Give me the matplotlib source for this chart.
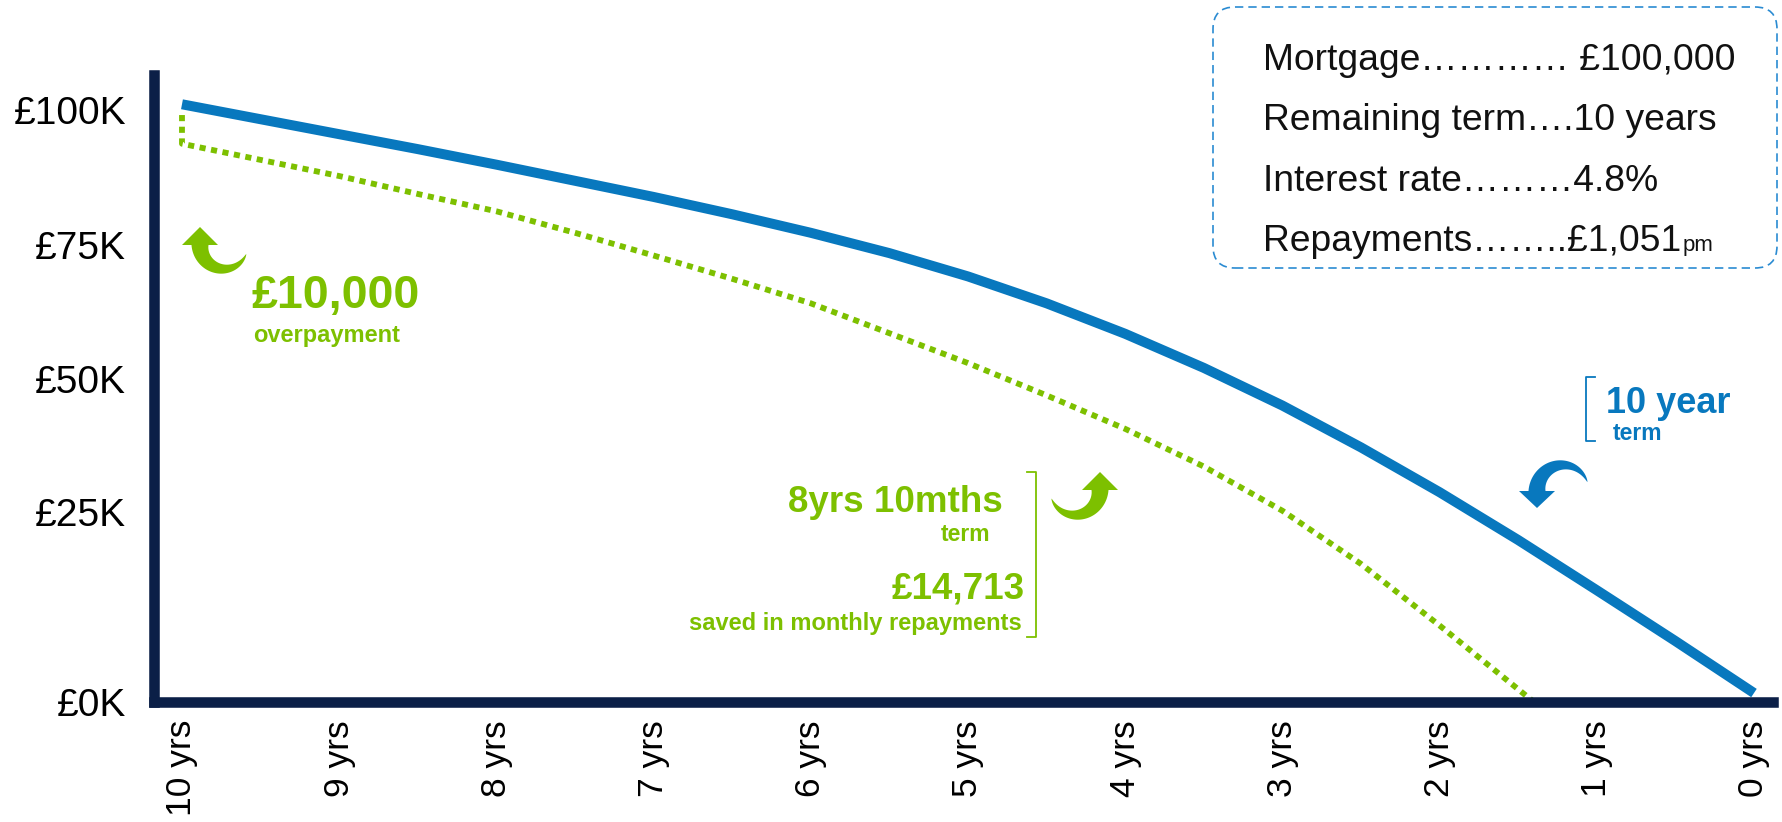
import numpy as np
import matplotlib
matplotlib.use('Agg')
import matplotlib.pyplot as plt
from matplotlib.patches import FancyBboxPatch, Polygon
from matplotlib.lines import Line2D

plt.rcParams['font.family'] = ['Liberation Sans', 'DejaVu Sans']

# ---------------- data (balance in £K against years remaining) ----------------
years = [10, 9.5, 9, 8.5, 8, 7.5, 7, 6.5, 6, 5.5, 5, 4.5, 4, 3.5, 3, 2.5, 2, 1.5, 1, 0.5, 0]
standard_balance = [100, 97.5, 95.0, 92.5, 89.9, 87.2, 84.5, 81.6, 78.5, 75.1, 71.2,
                    66.7, 61.6, 55.9, 49.6, 42.6, 35.1, 27.1, 18.7, 10.2, 1.5]

overpay_years = [10, 10, 9.5, 9, 8.5, 8, 7.5, 7, 6.5, 6, 5.5, 5, 4.5, 4, 3.5, 3, 2.5, 2, 1.40]
overpay_balance = [98.2, 93.4, 90.7, 88.0, 85.0, 82.1, 78.5, 74.7, 70.8, 66.7, 61.7, 56.7,
                   51.3, 45.7, 39.4, 32.0, 23.1, 12.8, 0]

year_ticks = [10, 9, 8, 7, 6, 5, 4, 3, 2, 1, 0]
year_labels = [f"{y} yrs" for y in year_ticks]
balance_tick_pos = [0, 31.8, 54.1, 76.5, 99.0]   # where the reference prints its labels
balance_tick_labels = ['£0K', '£25K', '£50K', '£75K', '£100K']

box_lines = ["Mortgage………… £100,000",
             "Remaining term….10 years",
             "Interest rate………4.8%",
             "Repayments……..£1,051"]
box_suffix = "pm"

overpay_amount = "£10,000"
overpay_caption = "overpayment"
new_term = "8yrs 10mths"
saving = "£14,713"
saving_caption = "saved in monthly repayments"
orig_term = "10 year"
term_caption = "term"

# ---------------- style ----------------
BLUE = '#0878be'
GREEN = '#7dc000'
NAVY = '#0b1f47'
BOX = '#2a8bd2'

W, H = 1783, 822
fig = plt.figure(figsize=(W / 100, H / 100), dpi=100)
T = fig.dpi_scale_trans


def P(x, y):
    return (x / 100.0, (H - y) / 100.0)


ax = fig.add_axes([154 / W, 1 - 702 / H, (1773 - 154) / W, (702 - 75) / H])
ax.plot(years, standard_balance, color=BLUE, lw=7.2, solid_capstyle='butt',
        solid_joinstyle='round', zorder=2)
ax.plot(overpay_years, overpay_balance, color=GREEN, lw=4.2,
        linestyle=(0, (1.05, 0.95)), dash_capstyle='butt', zorder=2)

ax.set_xlim(10.178, -0.121)
ax.set_ylim(0, 104.9)
ax.set_xticks(year_ticks)
ax.set_xticklabels(year_labels, rotation=90, fontsize=25.5, color='black')
ax.set_yticks(balance_tick_pos)
ax.set_yticklabels(balance_tick_labels, fontsize=28, color='black')
ax.tick_params(axis='both', length=0)
ax.tick_params(axis='y', pad=20)
ax.tick_params(axis='x', pad=13)
for s in ['top', 'right']:
    ax.spines[s].set_visible(False)
for s in ['left', 'bottom']:
    ax.spines[s].set_color(NAVY)
    ax.spines[s].set_linewidth(7.6)
    ax.spines[s].set_capstyle('projecting')
    ax.spines[s].set_zorder(3)

# ---------------- info box ----------------
box = FancyBboxPatch(P(1213, 268), (1777 - 1213) / 100, (268 - 7) / 100,
                     boxstyle="round,pad=0,rounding_size=0.22", transform=T,
                     facecolor='none', edgecolor=BOX, lw=1.2, linestyle=(0, (5, 3)))
fig.add_artist(box)
baselines = [70, 130, 191, 251]
last = None
for line, yb in zip(box_lines, baselines):
    last = fig.text(*P(1263, yb), line, transform=T, fontsize=26.8, color='#111111',
                    ha='left', va='baseline')
fig.canvas.draw()
bb = last.get_window_extent()
fig.text(bb.x1 / fig.dpi + 0.01, (H - 251) / 100, box_suffix, transform=T, fontsize=16,
         color='#111111', ha='left', va='baseline')

# ---------------- annotations ----------------
fig.text(*P(252, 308), overpay_amount, transform=T, fontsize=33.5, fontweight='bold',
         color=GREEN, ha='left', va='baseline')
fig.text(*P(253, 342), overpay_caption, transform=T, fontsize=17, fontweight='bold',
         color=GREEN, ha='left', va='baseline')

fig.text(*P(1003, 512), new_term, transform=T, fontsize=26.5, fontweight='bold',
         color=GREEN, ha='right', va='baseline')
fig.text(*P(990, 541), term_caption, transform=T, fontsize=16.5, fontweight='bold',
         color=GREEN, ha='right', va='baseline')
fig.text(*P(1025, 598), saving, transform=T, fontsize=26.5, fontweight='bold',
         color=GREEN, ha='right', va='baseline')
fig.text(*P(1022, 630), saving_caption, transform=T, fontsize=17, fontweight='bold',
         color=GREEN, ha='right', va='baseline')

fig.text(*P(1606, 413), orig_term, transform=T, fontsize=26, fontweight='bold',
         color=BLUE, ha='left', va='baseline')
fig.text(*P(1613, 440), term_caption, transform=T, fontsize=16.5, fontweight='bold',
         color=BLUE, ha='left', va='baseline')

# brackets
gx = [P(1027, 472), P(1036, 472), P(1036, 637), P(1027, 637)]
fig.add_artist(Line2D([p[0] for p in gx], [p[1] for p in gx], transform=T,
                      color=GREEN, lw=1.3))
bx = [P(1595, 377), P(1586, 377), P(1586, 441), P(1595, 441)]
fig.add_artist(Line2D([p[0] for p in bx], [p[1] for p in bx], transform=T,
                      color=BLUE, lw=1.3))


# curved (crescent) arrows, geometry in pixel space (y down)
def crescent_arrow(c, r, phi_tail, phi_head, w0, head_w, head_len, color, n=80):
    cx, cy = c
    ph = np.radians(np.linspace(phi_tail, phi_head, n))
    frac = np.linspace(0, 1, n)
    w = w0 * frac ** 0.75
    outer = [(cx + (r + wi / 2) * np.cos(p), cy + (r + wi / 2) * np.sin(p)) for p, wi in zip(ph, w)]
    inner = [(cx + (r - wi / 2) * np.cos(p), cy + (r - wi / 2) * np.sin(p)) for p, wi in zip(ph, w)]
    a = np.radians(phi_head)
    sgn = np.sign(phi_head - phi_tail)
    nrm = np.array([np.cos(a), np.sin(a)])
    tan = sgn * np.array([-np.sin(a), np.cos(a)])
    base = np.array([cx, cy]) + r * nrm
    h1 = base + nrm * head_w / 2
    tip = base + tan * head_len
    h2 = base - nrm * head_w / 2
    pts = outer + [tuple(h1), tuple(tip), tuple(h2)] + inner[::-1]
    pts = [P(x, y) for x, y in pts]
    fig.add_artist(Polygon(pts, closed=True, transform=T, facecolor=color,
                           edgecolor='none'))


crescent_arrow((224, 245), 24, 22, 180, 17, 36, 18, GREEN)
crescent_arrow((1075, 490), 25, 160, 0, 17, 36, 18, GREEN)
crescent_arrow((1563, 491), 26, -20, -180, 17, 36, 17, BLUE)

fig.savefig('out.png', dpi=100, facecolor='white')
